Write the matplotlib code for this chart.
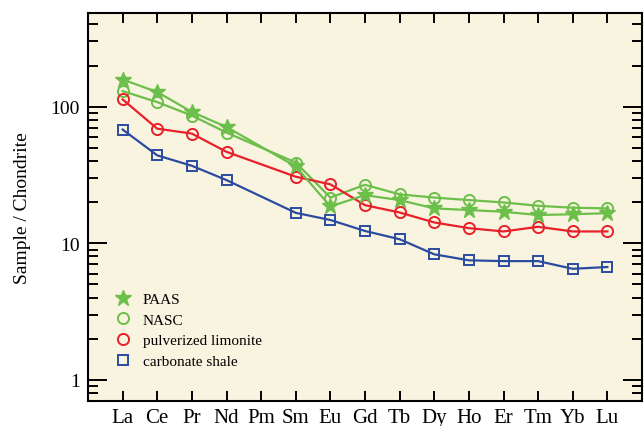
import matplotlib
matplotlib.use('Agg')
import matplotlib.pyplot as plt
from matplotlib.lines import Line2D
from matplotlib.ticker import LogLocator, NullFormatter, FixedLocator, FixedFormatter

elements = ['La', 'Ce', 'Pr', 'Nd', 'Pm', 'Sm', 'Eu', 'Gd', 'Tb', 'Dy', 'Ho', 'Er', 'Tm', 'Yb', 'Lu']
# Pm has no data (None)
paas = [158, 128, 91.5, 71, None, 36.5, 18.6, 22.5, 20.7, 18.0, 17.5, 17.0, 16.1, 16.3, 16.6]
nasc = [130, 108, 86, 64.6, None, 39, 21.6, 26.8, 22.8, 21.6, 20.7, 19.9, 18.8, 18.2, 18.0]
limonite = [113, 69, 63.5, 46.7, None, 30.7, 27, 19, 16.8, 14.2, 12.9, 12.2, 13.2, 12.2, 12.2]
carb_shale = [68, 44, 36.9, 29, None, 16.7, 14.8, 12.3, 10.7, 8.3, 7.5, 7.4, 7.4, 6.5, 6.7]

green = '#6cbf4a'
red = '#e8202a'
blue = '#2b4ba0'

plt.rcParams['font.family'] = ['Liberation Serif', 'DejaVu Serif']

fig = plt.figure(figsize=(6.44, 4.27), dpi=100)
ax = fig.add_axes([88 / 644, 1 - 402 / 427, (642 - 88) / 644, (402 - 14) / 427])
ax.set_facecolor('#f9f4e0')


def pts(vals):
    xs = [i for i, v in enumerate(vals) if v is not None]
    ys = [v for v in vals if v is not None]
    return xs, ys


x, y = pts(paas)
ax.plot(x, y, color=green, lw=1.6, marker='*', ms=12, mfc=green, mec=green, zorder=4)
x, y = pts(nasc)
ax.plot(x, y, color=green, lw=1.6, marker='o', ms=8, mfc='none', mec=green, mew=1.4, zorder=3)
x, y = pts(limonite)
ax.plot(x, y, color=red, lw=1.6, marker='o', ms=8, mfc='none', mec=red, mew=1.4, zorder=3)
x, y = pts(carb_shale)
ax.plot(x, y, color=blue, lw=1.6, marker='s', ms=7.5, mfc='none', mec=blue, mew=1.4, zorder=3)

ax.set_yscale('log')
ax.set_ylim(0.7, 485)
ax.set_xlim(-1.0, 15.0)

ax.xaxis.set_major_locator(FixedLocator(range(len(elements))))
ax.xaxis.set_major_formatter(FixedFormatter(elements))
ax.yaxis.set_major_locator(FixedLocator([1, 10, 100]))
ax.yaxis.set_major_formatter(FixedFormatter(['1', '10', '100']))
ax.yaxis.set_minor_locator(LogLocator(base=10, subs=range(2, 10)))
ax.yaxis.set_minor_formatter(NullFormatter())

ax.tick_params(axis='x', which='major', direction='in', top=True, bottom=True,
               length=7, width=1.4, labelsize=15, pad=5)
ax.tick_params(axis='y', which='major', direction='in', left=True, right=True,
               length=14, width=1.4, labelsize=14, pad=6)
ax.tick_params(axis='y', which='minor', direction='in', left=True, right=True,
               length=7, width=1.4)
for s in ax.spines.values():
    s.set_linewidth(1.5)

ax.set_ylabel('Sample / Chondrite', fontsize=14, labelpad=14)

handles = [
    Line2D([], [], ls='none', marker='*', ms=12, mfc=green, mec=green),
    Line2D([], [], ls='none', marker='o', ms=8, mfc='none', mec=green, mew=1.4),
    Line2D([], [], ls='none', marker='o', ms=8, mfc='none', mec=red, mew=1.4),
    Line2D([], [], ls='none', marker='s', ms=7.5, mfc='none', mec=blue, mew=1.4),
]
labels = ['PAAS', 'NASC', 'pulverized limonite', 'carbonate shale']
ax.legend(handles, labels, loc='lower left', bbox_to_anchor=(0.022, 0.05), frameon=False,
          fontsize=11, handlelength=1.2, handletextpad=0.7, labelspacing=0.45,
          borderaxespad=0.5)

fig.savefig('out.png', dpi=100)
